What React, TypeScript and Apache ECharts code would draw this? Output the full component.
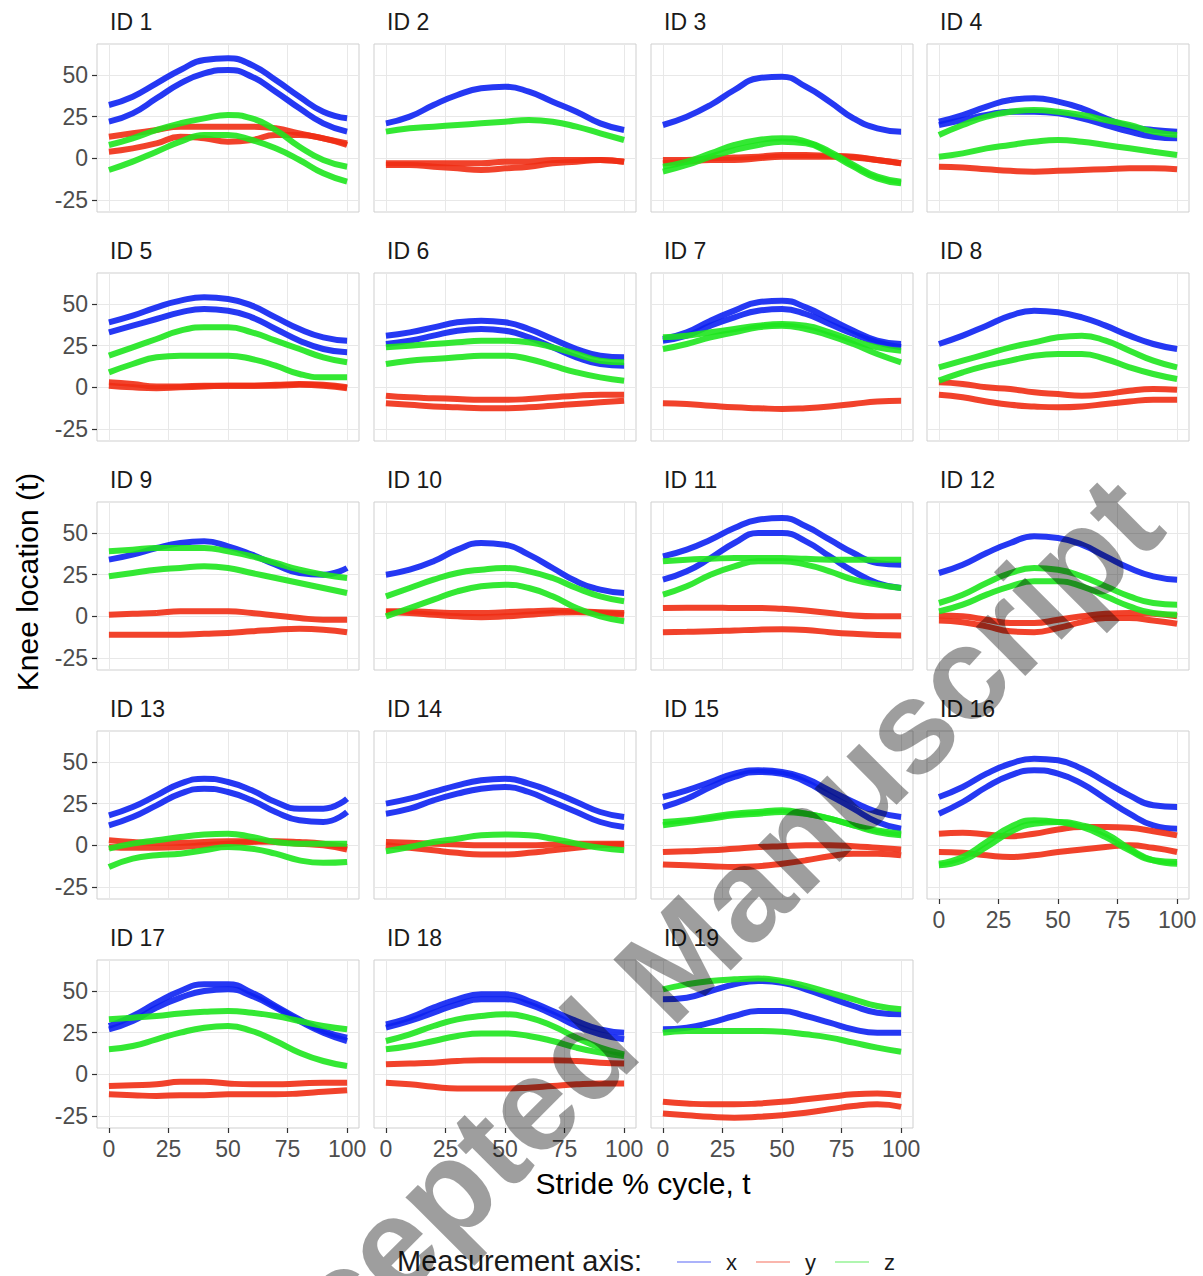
import React, { useEffect, useRef } from "react";
import * as echarts from "echarts";

// Stride % cycle sample points
const T = [0, 10, 20, 30, 40, 50, 60, 70, 80, 90, 100];
const X_TICKS = [0, 25, 50, 75, 100];
const Y_TICKS = [-25, 0, 25, 50];

// Each array holds one or more curve bundles (values at T) for an axis
const ID1_X = [[32, 37, 45, 53, 59, 60, 56, 47, 37, 28, 24], [22, 27, 36, 45, 51, 53, 49, 40, 30, 21, 16]];
const ID1_Y = [[13, 15, 17, 19, 19, 19, 19, 18, 15, 12, 9], [4, 6, 9, 13, 12, 10, 11, 14, 14, 12, 8]];
const ID1_Z = [[8, 12, 17, 21, 24, 26, 24, 17, 7, -1, -5], [-7, -2, 4, 10, 14, 14, 11, 6, -1, -9, -14]];

const ID2_X = [[21, 25, 32, 38, 42, 43, 40, 34, 28, 21, 17]];
const ID2_Y = [[-3, -3, -3, -3, -3, -2, -2, -1, -1, -1, -2], [-4, -4, -5, -6, -7, -6, -5, -3, -2, -1, -2]];
const ID2_Z = [[16, 18, 19, 20, 21, 22, 23, 22, 19, 15, 11]];

const ID3_X = [[20, 25, 32, 41, 48, 49, 43, 34, 24, 18, 16]];
const ID3_Y = [[-1, -1, 0, 0.5, 1, 2, 2, 1.5, 1, -1, -3], [-3, -2, -1, -1, 0, 1, 1, 1, 0.5, -1, -3]];
const ID3_Z = [[-5, -2, 3, 8, 11, 12, 10, 4, -4, -11, -14], [-8, -4, 1, 5, 8, 10, 9, 3, -5, -12, -15]];

const ID4_X = [[22, 26, 31, 35, 36, 34, 30, 24, 19, 17, 16], [20, 23, 26, 28, 28, 27, 24, 20, 16, 13, 12]];
const ID4_Y = [[-5, -5.5, -6.5, -7.5, -8, -7.5, -7, -6.5, -6, -6, -6.5]];
const ID4_Z = [[14, 20, 25, 28, 29, 28, 26, 23, 20, 16, 14], [1, 3, 6, 8, 10, 11, 10, 8, 6, 4, 2]];

const ID5_X = [[39, 43, 48, 52, 54, 53, 49, 42, 35, 30, 28], [33, 37, 41, 45, 47, 46, 42, 35, 28, 23, 21]];
const ID5_Y = [[3, 2, 0.5, 0.5, 1, 1, 1, 1.5, 2, 1.5, 0], [1, 0, -0.5, 0, 0.5, 1, 1, 1, 1.5, 1, -0.5]];
const ID5_Z = [[19, 24, 29, 34, 36, 36, 33, 28, 23, 18, 15], [9, 14, 18, 19, 19, 19, 17, 13, 8, 6, 6]];

const ID6_X = [[31, 33, 36, 39, 40, 39, 35, 29, 23, 19, 18], [26, 28, 31, 34, 35, 34, 30, 24, 18, 14, 13]];
const ID6_Y = [[-5, -6, -6.5, -7, -7.5, -7.5, -7, -6, -5, -4.5, -4.5], [-9.5, -10.5, -11.5, -12, -12.5, -12.5, -12, -11, -10, -9, -8]];
const ID6_Z = [[24, 25, 26, 27, 28, 28, 27, 24, 20, 16, 15], [14, 16, 17, 18, 19, 19, 17, 13, 9, 6, 4]];

const ID7_X = [[29, 33, 40, 46, 51, 52, 48, 41, 34, 28, 26], [28, 31, 37, 42, 46, 47, 44, 38, 32, 27, 24]];
const ID7_Y = [[-9.5, -10, -11, -12, -12.5, -13, -12.5, -11.5, -10, -8.5, -8]];
const ID7_Z = [[30, 31, 33, 35, 37, 38, 37, 33, 28, 24, 22], [23, 26, 30, 33, 36, 37, 35, 31, 26, 20, 15]];

const ID8_X = [[26, 31, 37, 43, 46, 45, 42, 37, 31, 26, 23]];
const ID8_Y = [[3, 2, 0, -1, -3, -4, -5, -4, -2, -1, -1.5], [-4.5, -6, -8.5, -10.5, -11.5, -12, -11.5, -10, -8.5, -7.5, -7.5]];
const ID8_Z = [[12, 16, 20, 24, 27, 30, 31, 28, 22, 16, 12], [4, 9, 13, 16, 19, 20, 20, 17, 12, 8, 5]];

const ID9_X = [[34, 37, 41, 44, 45, 42, 37, 31, 26, 25, 29]];
const ID9_Y = [[1, 1.5, 2, 3, 3, 3, 2, 0.5, -1, -2, -2], [-11, -11, -11, -11, -10.5, -10, -9, -8, -7.5, -8, -9.5]];
const ID9_Z = [[39, 40, 41, 41, 41, 39, 36, 32, 28, 25, 23], [24, 26, 28, 29, 30, 29, 26, 23, 20, 17, 14]];

const ID10_X = [[25, 28, 33, 40, 44, 43, 37, 29, 21, 16, 14]];
const ID10_Y = [[3, 3, 2.5, 2, 2, 2.5, 3, 3.5, 3, 2.5, 2], [2.5, 2, 1, 0, -0.5, 0, 1, 2, 2.5, 2, 1]];
const ID10_Z = [[12, 17, 22, 26, 28, 29, 27, 23, 17, 12, 9], [0, 5, 10, 15, 18, 19, 17, 12, 5, 0, -3]];

const ID11_X = [[36, 40, 46, 53, 58, 59, 54, 46, 38, 32, 31], [22, 27, 35, 44, 50, 50, 45, 36, 27, 20, 17]];
const ID11_Y = [[5, 5.2, 5.2, 5, 5, 4.5, 3.5, 2, 0.5, 0, 0], [-9.5, -9.3, -9, -8.5, -8, -7.8, -8.2, -9.5, -10.5, -11.2, -11.5]];
const ID11_Z = [[33, 34, 34.5, 35, 35, 35, 34.5, 34, 34, 34, 34], [13, 18, 25, 30, 33, 33, 31, 27, 22, 19, 17]];

const ID12_X = [[26, 31, 38, 44, 48, 47, 43, 36, 29, 24, 22]];
const ID12_Y = [[0.5, 0, -2, -4, -4, -2, 0, 1.5, 2, 1.5, 0], [-2.5, -3.5, -6, -9, -9.5, -7, -3.5, -1, -1, -2.5, -4.5]];
const ID12_Z = [[8, 13, 20, 26, 29, 28, 24, 18, 12, 8, 7], [3, 7, 13, 18, 21, 21, 18, 12, 6, 2, 1]];

const ID13_X = [[18, 23, 30, 37, 40, 38, 33, 26, 22, 22, 28], [12, 17, 24, 31, 34, 32, 27, 20, 15, 14, 20]];
const ID13_Y = [[3, 2, 1.5, 1.5, 2, 2.5, 2.5, 2, 1, 0, -2.5], [-1, -1.5, -1.5, -1, 0, 1, 2, 2.5, 2, 1, -1]];
const ID13_Z = [[-2, 1, 3, 5, 6.5, 7, 5, 2, 1, 1, 1], [-13, -8, -6, -5, -3, -1, -2, -5, -9, -10.5, -10]];

const ID14_X = [[25, 28, 32, 36, 39, 40, 37, 32, 26, 20, 17], [19, 22, 27, 31, 34, 35, 32, 26, 20, 14, 11]];
const ID14_Y = [[2, 1.5, 1, 0.5, 0, 0, 0, 0.5, 1, 1, 1], [0, -1.5, -3, -4.5, -5.5, -5.5, -4.5, -3, -1.5, 0, 0.5]];
const ID14_Z = [[-3.5, -1, 2, 4, 6, 6.5, 6, 4, 1, -1.5, -3]];

const ID15_X = [[29, 33, 38, 43, 45, 44, 40, 33, 26, 20, 17], [23, 28, 35, 41, 44, 43, 38, 30, 22, 14, 10]];
const ID15_Y = [[-4, -3.5, -3, -2, -1, -0.5, 0, 0, -0.5, -1.5, -2.5], [-11.5, -12, -12.5, -13, -12.5, -11, -9, -6.5, -5, -5, -6]];
const ID15_Z = [[14, 15, 17, 19, 20, 21, 19, 16, 12, 8, 6], [12, 14, 16, 18, 19, 20, 19, 16, 12, 9, 7]];

const ID16_X = [[29, 35, 43, 49, 52, 51, 46, 38, 30, 24, 23], [19, 26, 35, 42, 45, 43, 37, 28, 19, 12, 10]];
const ID16_Y = [[7, 7.5, 6.5, 5.5, 7, 9.5, 11, 11, 10.5, 8.5, 6], [-4, -4.5, -6, -7, -6, -4, -2.5, -1, 0, -1.5, -4]];
const ID16_Z = [[-11, -7, 2, 11, 15, 14, 11, 5, -3, -9, -10], [-12, -9, -1, 8, 13, 14, 12, 7, -2, -9, -11]];

const ID17_X = [[29, 35, 43, 50, 54, 54, 49, 41, 33, 26, 22], [27, 32, 40, 46, 50, 51, 47, 40, 32, 25, 20]];
const ID17_Y = [[-7, -6.5, -6, -4.5, -4.5, -5.5, -6, -6, -5.5, -5, -5], [-12, -12.5, -13, -12.5, -12.5, -12, -12, -12, -11.5, -10.5, -9.5]];
const ID17_Z = [[33, 34, 35, 36.5, 37.5, 38, 37, 35, 32, 29, 27], [15, 17, 21, 25, 28, 29, 26, 20, 13, 8, 5]];

const ID18_X = [[30, 34, 40, 45, 48, 48, 44, 38, 32, 27, 25], [28, 32, 37, 42, 45, 45, 42, 36, 29, 24, 21]];
const ID18_Y = [[6, 6.5, 7, 8, 8.5, 8.5, 8.5, 8.5, 8, 7, 6.5], [-5, -6, -7.5, -8.5, -8.5, -8.5, -8, -7, -6, -5.5, -5.5]];
const ID18_Z = [[20, 24, 29, 33, 35, 36, 34, 29, 22, 16, 12], [15, 17, 20, 23, 24.5, 24.5, 23, 20, 16, 13, 11]];

const ID19_X = [[45, 46, 50, 54, 56, 55, 51, 46, 41, 37, 36], [27, 28, 31, 35, 38, 38, 35, 31, 27, 25, 25]];
const ID19_Y = [[-16.5, -17.5, -18, -18, -17.5, -16.5, -15, -13.5, -12, -11.5, -12.5], [-23.5, -24.5, -25.5, -26, -25.5, -24.5, -23, -21, -19, -18, -19.5]];
const ID19_Z = [[51, 54, 56, 57, 57.5, 56, 53, 49, 45, 41, 39], [25, 26, 26, 26, 26, 25.5, 24, 22, 19, 16, 13.5]];

const PANELS = [
  { id: 1, x: ID1_X, y: ID1_Y, z: ID1_Z },
  { id: 2, x: ID2_X, y: ID2_Y, z: ID2_Z },
  { id: 3, x: ID3_X, y: ID3_Y, z: ID3_Z },
  { id: 4, x: ID4_X, y: ID4_Y, z: ID4_Z },
  { id: 5, x: ID5_X, y: ID5_Y, z: ID5_Z },
  { id: 6, x: ID6_X, y: ID6_Y, z: ID6_Z },
  { id: 7, x: ID7_X, y: ID7_Y, z: ID7_Z },
  { id: 8, x: ID8_X, y: ID8_Y, z: ID8_Z },
  { id: 9, x: ID9_X, y: ID9_Y, z: ID9_Z },
  { id: 10, x: ID10_X, y: ID10_Y, z: ID10_Z },
  { id: 11, x: ID11_X, y: ID11_Y, z: ID11_Z },
  { id: 12, x: ID12_X, y: ID12_Y, z: ID12_Z },
  { id: 13, x: ID13_X, y: ID13_Y, z: ID13_Z },
  { id: 14, x: ID14_X, y: ID14_Y, z: ID14_Z },
  { id: 15, x: ID15_X, y: ID15_Y, z: ID15_Z },
  { id: 16, x: ID16_X, y: ID16_Y, z: ID16_Z },
  { id: 17, x: ID17_X, y: ID17_Y, z: ID17_Z },
  { id: 18, x: ID18_X, y: ID18_Y, z: ID18_Z },
  { id: 19, x: ID19_X, y: ID19_Y, z: ID19_Z },
];

const AXES = ["x", "y", "z"] as const;
const COLORS: Record<string, string> = { x: "#0d22f2", y: "#f02d14", z: "#1ee61e" };

// layout
const W = 1203;
const H = 1276;
const COL_LEFT = [97, 374, 651, 927];
const ROW_TOP = [44, 273, 502, 731, 960];
const PW = 262;
const PH = 168;
const X_MIN = -5;
const X_MAX = 105;
const Y_MIN = -32.2;
const Y_MAX = 68.6;
const FONT = "'Liberation Sans', Arial, Helvetica, sans-serif";
const BOTTOM_IDS = [16, 17, 18, 19];

function buildOption() {
  const grids: any[] = [];
  const xAxes: any[] = [];
  const yAxes: any[] = [];
  const series: any[] = [];
  const graphics: any[] = [];
  const sx = PW / (X_MAX - X_MIN);
  const sy = PH / (Y_MAX - Y_MIN);

  PANELS.forEach((p, i) => {
    const r = Math.floor(i / 4);
    const c = i % 4;
    const left = COL_LEFT[c];
    const top = ROW_TOP[r];
    const showX = BOTTOM_IDS.includes(p.id);
    const showY = c === 0;

    // data grid (full panel)
    grids.push({ left, top, width: PW, height: PH, show: true, borderColor: "#cfcfcf", borderWidth: 1, backgroundColor: "transparent" });
    xAxes.push({ gridIndex: 3 * i, type: "value", min: X_MIN, max: X_MAX, show: false });
    yAxes.push({ gridIndex: 3 * i, type: "value", min: Y_MIN, max: Y_MAX, show: false });

    // horizontal gridlines + y labels
    grids.push({ left, top: top + (Y_MAX - Y_TICKS[3]) * sy, width: PW, height: (Y_TICKS[3] - Y_TICKS[0]) * sy });
    xAxes.push({ gridIndex: 3 * i + 1, type: "value", min: 0, max: 1, show: false });
    yAxes.push({
      gridIndex: 3 * i + 1,
      type: "value",
      min: Y_TICKS[0],
      max: Y_TICKS[3],
      interval: 25,
      axisLine: { show: false },
      axisTick: { show: showY, length: 5, lineStyle: { color: "#333", width: 1.2 } },
      axisLabel: { show: showY, fontSize: 23, color: "#4d4d4d", margin: 9, fontFamily: FONT },
      splitLine: { show: true, lineStyle: { color: "#e8e8e8", width: 1 } },
    });

    // vertical gridlines + x labels
    grids.push({ left: left + (X_TICKS[0] - X_MIN) * sx, top, width: (X_TICKS[4] - X_TICKS[0]) * sx, height: PH });
    xAxes.push({
      gridIndex: 3 * i + 2,
      type: "value",
      min: X_TICKS[0],
      max: X_TICKS[4],
      interval: 25,
      position: "bottom",
      axisLine: { show: false },
      axisTick: { show: showX, length: 5, lineStyle: { color: "#333", width: 1.2 } },
      axisLabel: { show: showX, fontSize: 23, color: "#4d4d4d", margin: 9, fontFamily: FONT },
      splitLine: { show: true, lineStyle: { color: "#e8e8e8", width: 1 } },
    });
    yAxes.push({ gridIndex: 3 * i + 2, type: "value", min: 0, max: 1, show: false });

    AXES.forEach((ax) => {
      (p as any)[ax].forEach((curve: number[]) => {
        series.push({
          type: "line",
          name: ax,
          xAxisIndex: 3 * i,
          yAxisIndex: 3 * i,
          data: T.map((t, k) => [t, curve[k]]),
          smooth: 0.5,
          symbol: "none",
          silent: true,
          lineStyle: { color: COLORS[ax], width: 6, opacity: 0.9 },
          itemStyle: { color: COLORS[ax] },
        });
      });
    });

    graphics.push({
      type: "text",
      x: left + 13,
      y: top - 22,
      style: { text: `ID ${p.id}`, fontSize: 23, fill: "#1a1a1a", fontFamily: FONT, textAlign: "left", textVerticalAlign: "middle" },
    });
  });

  graphics.push({
    type: "text",
    x: 27,
    y: 582,
    rotation: Math.PI / 2,
    style: { text: "Knee location (t)", fontSize: 30, fill: "#000", fontFamily: FONT, textAlign: "center", textVerticalAlign: "middle" },
  });
  graphics.push({
    type: "text",
    x: 643,
    y: 1183,
    style: { text: "Stride % cycle, t", fontSize: 30, fill: "#000", fontFamily: FONT, textAlign: "center", textVerticalAlign: "middle" },
  });
  graphics.push({
    type: "text",
    x: 397,
    y: 1261,
    style: { text: "Measurement axis:", fontSize: 29, fill: "#1a1a1a", fontFamily: FONT, textAlign: "left", textVerticalAlign: "middle" },
  });
  // watermark (runs off the canvas edge, as in the source image)
  graphics.push({
    type: "text",
    x: 665,
    y: 972,
    z: 100,
    rotation: (45 * Math.PI) / 180,
    silent: true,
    style: { text: "Accepted Manuscript", fontSize: 132, fontWeight: "bold", fill: "rgba(0,0,0,0.38)", fontFamily: FONT, textAlign: "center", textVerticalAlign: "middle" },
  });

  return {
    animation: false,
    backgroundColor: "#ffffff",
    grid: grids,
    xAxis: xAxes,
    yAxis: yAxes,
    series,
    legend: {
      data: ["x", "y", "z"],
      left: 672,
      top: 1246,
      icon: "rect",
      itemWidth: 34,
      itemHeight: 2,
      itemGap: 19,
      selectedMode: false,
      itemStyle: { opacity: 0.35 },
      textStyle: { fontSize: 22, color: "#1a1a1a", fontFamily: FONT, padding: [0, 0, 0, 10] },
    },
    graphic: graphics,
  };
}

export default function App() {
  const ref = useRef<HTMLDivElement>(null);
  useEffect(() => {
    if (!ref.current) return;
    const chart = echarts.init(ref.current, null, { renderer: "svg", width: W, height: H });
    chart.setOption(buildOption() as any);
    return () => chart.dispose();
  }, []);
  return <div ref={ref} style={{ position: "absolute", left: 0, top: 0, width: W, height: H, background: "#fff" }} />;
}
